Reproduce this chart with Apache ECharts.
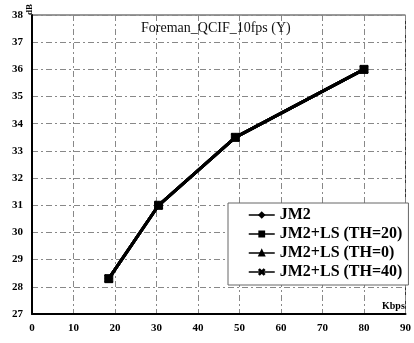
<!DOCTYPE html>
<html>
<head>
<meta charset="utf-8">
<script src="https://cdn.jsdelivr.net/npm/echarts@6/dist/echarts.min.js"></script>
<style>
  html, body { margin: 0; padding: 0; background: #fff; }
  #chart { width: 414px; height: 343px; }
</style>
</head>
<body>
<div id="chart"></div>
<script>
  // bitrate (Kbps) and PSNR (dB)
  const kbps = [18.5, 30.5, 49, 80]
  const jm2 = [28.3, 31.0, 33.5, 36.0]
  const ls20 = [28.3, 31.0, 33.5, 36.0]
  const ls0 = [28.3, 31.0, 33.5, 36.0]
  const ls40 = [28.3, 31.0, 33.5, 36.0]
  const seriesNames = ['JM2', 'JM2+LS (TH=20)', 'JM2+LS (TH=0)', 'JM2+LS (TH=40)']

  const serif = '"Liberation Serif", "DejaVu Serif", serif'
  // filled "x" mark so it also shows up in the legend
  const crossPath = 'path://M0,1 L1,0 L5,4 L9,0 L10,1 L6,5 L10,9 L9,10 L5,6 L1,10 L0,9 L4,5 Z'

  function pairs(ys) {
    return kbps.map((x, i) => [x, ys[i]])
  }

  function lineSeries(name, ys, symbol, size, z) {
    return {
      name: name,
      type: 'line',
      data: pairs(ys),
      symbol: symbol,
      symbolSize: size,
      z: z,
      lineStyle: { color: '#000', width: 3 },
      itemStyle: { color: '#000', borderColor: '#000', borderWidth: 1 },
    }
  }

  const chart = echarts.init(document.getElementById('chart'))
  const option = {
    animation: false,
    backgroundColor: '#fff',
    title: {
      text: 'Foreman_QCIF_10fps (Y)',
      left: 136,
      top: 16,
      textStyle: { fontFamily: serif, fontSize: 14, fontWeight: 'normal', color: '#111' },
    },
    grid: {
      left: 32,
      right: 6,
      top: 15,
      bottom: 29,
      show: true,
      borderColor: '#333',
      borderWidth: 1,
    },
    legend: {
      data: seriesNames,
      orient: 'vertical',
      left: 228,
      top: 203,
      itemWidth: 26,
      itemHeight: 6,
      itemGap: 3,
      padding: [4, 6, 5, 20],
      backgroundColor: '#fff',
      borderColor: '#666',
      borderWidth: 1,
      lineStyle: { width: 1.5 },
      textStyle: { fontFamily: serif, fontSize: 16, fontWeight: 'bold', color: '#000' },
    },
    xAxis: {
      type: 'value',
      min: 0,
      max: 90,
      interval: 10,
      axisLine: { lineStyle: { color: '#000', width: 2 } },
      axisTick: { show: false },
      axisLabel: { fontFamily: serif, fontSize: 11, fontWeight: 'bold', color: '#000', margin: 9 },
      splitLine: { lineStyle: { color: '#888', type: [6, 3, 2, 3], width: 1 } },
    },
    yAxis: {
      type: 'value',
      min: 27,
      max: 38,
      interval: 1,
      axisLine: { show: true, lineStyle: { color: '#000', width: 2 } },
      axisTick: { show: false },
      axisLabel: { fontFamily: serif, fontSize: 11, fontWeight: 'bold', color: '#000', margin: 9 },
      splitLine: { lineStyle: { color: '#888', type: [6, 3, 2, 3], width: 1 } },
    },
    graphic: [
      {
        type: 'text',
        x: 25,
        y: 15,
        rotation: Math.PI / 2,
        style: { text: 'dB', fontFamily: serif, fontSize: 9, fontWeight: 'bold', fill: '#000' },
      },
      {
        type: 'text',
        left: 382,
        top: 301,
        style: { text: 'Kbps', fontFamily: serif, fontSize: 10, fontWeight: 'bold', fill: '#000' },
      },
    ],
    series: [
      lineSeries(seriesNames[0], jm2, 'diamond', 7, 2),
      lineSeries(seriesNames[2], ls0, 'triangle', 7, 3),
      lineSeries(seriesNames[3], ls40, crossPath, 8, 4),
      lineSeries(seriesNames[1], ls20, 'rect', 8, 5),
    ],
  }
  chart.setOption(option)
</script>
</body>
</html>
